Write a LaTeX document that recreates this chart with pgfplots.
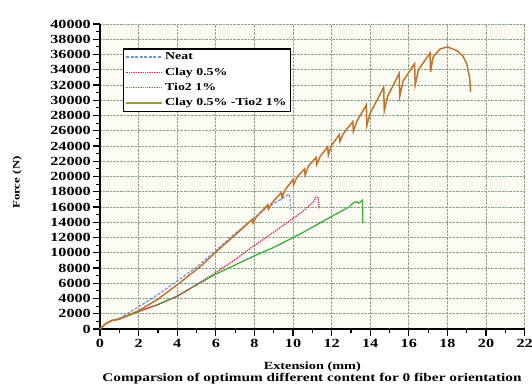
\documentclass[border=0pt]{standalone}
\usepackage{fontspec}
\setmainfont{Liberation Serif}[FakeStretch=1.3]
\usepackage{pgfplots}
\pgfplotsset{compat=1.18}
\definecolor{neatc}{RGB}{110,150,215}
\definecolor{clayc}{RGB}{215,45,85}
\definecolor{tioc}{RGB}{60,175,60}
\definecolor{mixc}{RGB}{195,115,45}
\definecolor{mixleg}{RGB}{160,160,30}
\definecolor{gridc}{RGB}{135,165,135}
\definecolor{bgc}{RGB}{253,252,244}
\newcommand{\tf}{\bfseries\fontsize{12.5}{13}\selectfont}
\begin{document}
\begin{tikzpicture}
\useasboundingbox (0,0) rectangle (532bp,387bp);
\begin{axis}[
  at={(100bp,58bp)}, anchor=south west,
  scale only axis, width=424.6bp, height=305bp,
  xmin=0, xmax=22, ymin=0, ymax=40000,
  clip=false,
  axis x line*=bottom, axis y line*=left,
  axis line style={line width=1.6bp, black},
  xtick={0,2,...,22}, ytick={0,2000,...,40000},
  xticklabels={}, yticklabels={},
  scaled x ticks=false, scaled y ticks=false,
  minor x tick num=1, minor y tick num=1,
  tick align=outside,
  major tick length=7bp, minor tick length=4bp,
  every tick/.style={black, line width=1.2bp},
  grid=major,
  major grid style={gridc, densely dotted, line width=0.8bp},
  axis background/.style={fill=bgc},
  xlabel={Extension (mm)},
  xlabel style={at={(axis description cs:0.5,-0.125)}, anchor=center, font=\bfseries\fontsize{11}{12}\selectfont},
  ylabel={Force (N)},
  ylabel style={at={(axis description cs:-0.195,0.48)}, anchor=center, font=\bfseries\fontsize{10}{12}\selectfont},
  legend cell align=left,
  legend style={at={(axis description cs:0.054,0.921)}, anchor=north west,
    draw=black, line width=1.5bp, fill=white, inner sep=2bp,
    font=\bfseries\fontsize{10.7}{12}\selectfont, row sep=2.5bp},
  legend image code/.code={\draw[#1] (0bp,0bp) -- (36bp,0bp);},
]
% TiO2 1%
\addplot[tioc, line width=1.3bp, forget plot] coordinates {
(0,0) (0.3,700) (0.6,1100) (1,1300) (2,2300) (3,3200) (4,4300) (5,5800)
(6,7200) (7,8400) (8,9600) (9,10700) (10.4,12500) (12.1,14900)
(12.9,16000) (13.1,16500) (13.3,16700) (13.4,16500) (13.6,16900) (13.62,13900)};
% Clay 0.5%
\addplot[clayc, line width=1.3bp, densely dotted, forget plot] coordinates {
(0,0) (0.3,700) (0.6,1100) (1,1300) (2,2300) (3,3200) (4,4300) (5,5800)
(6,7400) (7,9100) (7.8,10600) (9,12700) (10,14500) (10.6,15600)
(11.1,16800) (11.2,17300) (11.3,17200) (11.35,15800)};
% Neat
\addplot[neatc, line width=1.2bp, dash pattern=on 3bp off 1.5bp, forget plot] coordinates {
(0,0) (0.3,700) (0.6,1100) (1,1400) (2,2900) (3,4500) (4,6300) (5,8100)
(6,10300) (6.9,12300) (7.8,14200) (8.6,15800) (9.3,16900) (9.8,17700)
(9.85,17000) (9.85,15600)};
% Clay 0.5% - TiO2 1%
\addplot[mixc, line width=1.5bp, forget plot] coordinates {
(0,0) (0.3,700) (0.6,1100) (1,1300) (2,2400) (3,3900) (4,5800) (5.2,8200)
(6.4,11000) (7.3,13000) (7.9,14400) (7.93,13900) (8.1,14700)
(8.7,16300) (8.73,15700) (8.9,16500)
(9.4,17900) (9.43,17200) (9.6,18300)
(10.0,19600) (10.03,18900) (10.2,19900)
(10.6,21000) (10.63,20200) (10.8,21400)
(11.2,22500) (11.23,21600) (11.4,22600)
(11.8,23900) (11.83,22800) (12.0,24100)
(12.4,25500) (12.43,24600) (12.6,25600)
(13.1,27200) (13.13,25900) (13.3,27200)
(13.8,29400) (13.83,26700) (14.0,28300)
(14.7,31700) (14.73,28600) (14.9,30500)
(15.5,33500) (15.53,30500) (15.7,32500)
(16.3,34800) (16.33,32000) (16.5,34000)
(17.1,36200) (17.13,33700) (17.25,35600)
(17.6,36700) (18.0,37000) (18.5,36500) (18.8,35800) (19.0,34800)
(19.15,33000) (19.2,31100)};
\addlegendimage{neatc, line width=1.2bp, dash pattern=on 3bp off 1.5bp}
\addlegendentry{Neat}
\addlegendimage{clayc, line width=1.3bp, densely dotted}
\addlegendentry{Clay 0.5\%}
\addlegendimage{tioc, line width=1.3bp, densely dotted}
\addlegendentry{Tio2 1\%}
\addlegendimage{mixleg, line width=1.5bp}
\addlegendentry{Clay 0.5\% -Tio2 1\%}
\pgfplotsinvokeforeach{0,2,4,6,8,10,12,14,16,18,20,22}{
  \node[anchor=north, font=\tf, inner sep=1bp, yshift=-9bp] at (axis cs:#1,0) {#1};
}
\pgfplotsinvokeforeach{0,2000,4000,6000,8000,10000,12000,14000,16000,18000,20000,22000,24000,26000,28000,30000,32000,34000,36000,38000,40000}{
  \node[anchor=east, font=\tf, inner sep=1bp, xshift=-8bp] at (axis cs:0,#1) {#1};
}
\end{axis}
\node[font=\bfseries\fontsize{11.8}{12}\selectfont] at (312bp,8bp)
  {Comparsion of optimum different content for 0 fiber orientation};
\end{tikzpicture}
\end{document}
